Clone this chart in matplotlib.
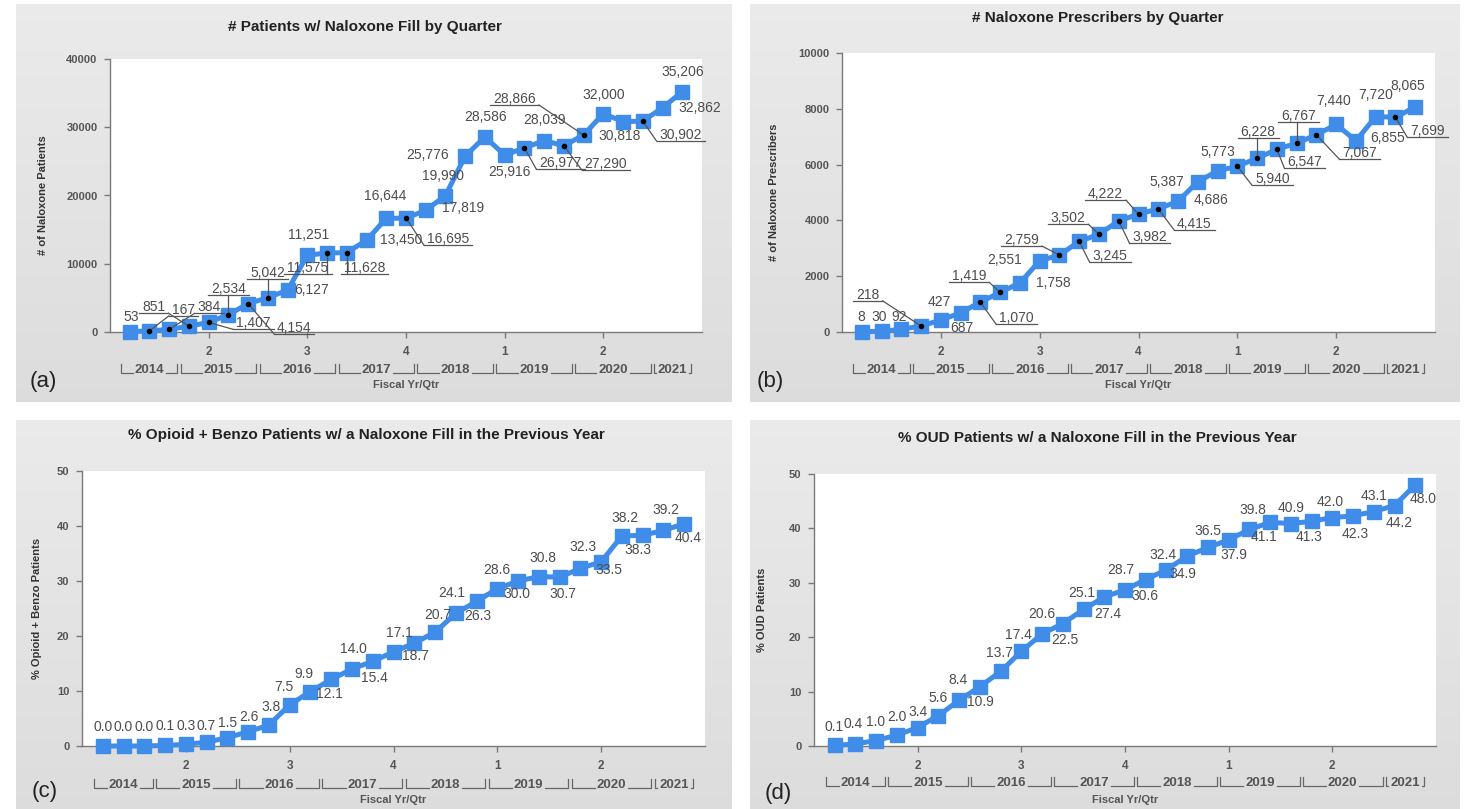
import matplotlib
matplotlib.use("Agg")
import numpy as np
import matplotlib.pyplot as plt

plt.rcParams['font.family'] = ['Liberation Sans', 'DejaVu Sans']

W, H = 1468, 809

# ---- data -------------------------------------------------------------
quarter_ticks = [4, 9, 14, 19, 24]
quarter_labels = ["2", "3", "4", "1", "2"]
fiscal_years = ["2014", "2015", "2016", "2017", "2018", "2019", "2020", "2021"]
year_quarters = [3, 4, 4, 4, 4, 4, 4, 2]

patients = [53, 167, 384, 851, 1407, 2534, 4154, 5042, 6127, 11251, 11575, 11628,
            13450, 16644, 16695, 17819, 19990, 25776, 28586, 25916, 26977, 28039,
            27290, 28866, 32000, 30818, 30902, 32862, 35206]
prescribers = [8, 30, 92, 218, 427, 687, 1070, 1419, 1758, 2551, 2759, 3245, 3502,
               3982, 4222, 4415, 4686, 5387, 5773, 5940, 6228, 6547, 6767, 7067,
               7440, 6855, 7720, 7699, 8065]
opioid_benzo = [0.0, 0.0, 0.0, 0.1, 0.3, 0.7, 1.5, 2.6, 3.8, 7.5, 9.9, 12.1, 14.0,
                15.4, 17.1, 18.7, 20.7, 24.1, 26.3, 28.6, 30.0, 30.8, 30.7, 32.3,
                33.5, 38.2, 38.3, 39.2, 40.4]
oud = [0.1, 0.4, 1.0, 2.0, 3.4, 5.6, 8.4, 10.9, 13.7, 17.4, 20.6, 22.5, 25.1, 27.4,
       28.7, 30.6, 32.4, 34.9, 36.5, 37.9, 39.8, 41.1, 40.9, 41.3, 42.0, 42.3, 43.1,
       44.2, 48.0]

# ---- label placement (pixel offsets from the point, leader flag) ------
pat_pos = [(1, 15, 0), (34, 21, 1), (40, 22, 1), (-35, 19, 1), (45, -1, 1),
           (0, 26, 1), (46, -24, 1), (0, 25, 1), (24, 0, 0), (1, 20, 0),
           (-19, -15, 1), (18, -15, 1), (35, 0, 0), (-1, 22, 0), (42, -21, 1),
           (37, 2, 0), (-2, 20, 0), (-38, 1, 0), (1, 20, 0), (5, -17, 0),
           (36, -15, 1), (0, 21, 0), (42, -18, 1), (-69, 36, 1), (0, 19, 0),
           (-3, -14, 0), (38, -14, 1), (37, 0, 0), (0, 20, 0)]
prs_pos = [(-1, 15, 0), (-2, 14, 0), (-2, 12, 0), (-53, 31, 1), (-2, 18, 0),
           (1, -15, 0), (36, -16, 1), (-31, 16, 1), (33, 0, 0), (-35, 1, 0),
           (-38, 15, 1), (31, -15, 1), (-31, 16, 1), (31, -16, 1), (-33, 20, 1),
           (36, -15, 1), (33, 1, 0), (-31, 0, 0), (0, 19, 0), (35, -13, 1),
           (1, 26, 1), (28, -13, 1), (2, 27, 1), (43, -18, 1), (-3, 23, 0),
           (32, 3, 0), (0, 22, 0), (32, -14, 1), (-7, 21, 0)]
ob_pos = [(0, 19, 0), (0, 19, 0), (0, 19, 0), (0, 19, 0), (0, 18, 0), (0, 16, 0),
          (0, 15, 0), (1, 15, 0), (2, 18, 0), (-6, 18, 0), (-7, 18, 0), (-2, -15, 0),
          (1, 20, 0), (2, -17, 0), (6, 19, 0), (1, -13, 0), (3, 17, 0), (-4, 20, 0),
          (1, -15, 0), (-1, 19, 0), (-1, -13, 0), (4, 19, 0), (3, -17, 0), (3, 21, 0),
          (8, -8, 0), (3, 18, 0), (-5, -15, 0), (2, 20, 0), (4, -14, 0)]
oud_pos = [(-1, 18, 0), (-2, 20, 0), (-1, 19, 0), (0, 18, 0), (0, 16, 0), (0, 18, 0),
           (-1, 20, 0), (1, -15, 0), (-1, 18, 0), (-3, 16, 0), (0, 20, 0), (2, -16, 0),
           (-2, 16, 0), (4, -17, 0), (-4, 20, 0), (-1, -16, 0), (-3, 15, 0), (-4, -18, 0),
           (0, 16, 0), (5, -15, 0), (3, 19, 0), (-6, -15, 0), (0, 16, 0), (-3, -16, 0),
           (-2, 16, 0), (2, -18, 0), (0, 16, 0), (5, -17, 0), (8, -14, 0)]

BLUE = "#3f8de8"
GREY_TXT = "#4d4d4d"
AXIS_GREY = "#7a7a7a"

fig = plt.figure(figsize=(W / 100, H / 100), dpi=100)
fig.patch.set_facecolor("white")
renderer = fig.canvas.get_renderer()


def px_axes(l, t, r, b, **kw):
    return fig.add_axes([l / W, 1 - b / H, (r - l) / W, (b - t) / H], **kw)


def panel_bg(l, t, r, b):
    bg = px_axes(l, t, r, b, zorder=-5)
    grad = np.linspace(0.92, 0.865, 256)[:, None]
    bg.imshow(np.dstack([grad, grad, grad]), aspect="auto", extent=(0, 1, 0, 1),
              interpolation="bilinear")
    bg.set_axis_off()


def to_data(ax, px, py):
    return ax.transData.inverted().transform((px, py))


def setup_axes(ax, ymax, ystep):
    ax.set_facecolor("white")
    ax.set_xlim(-1, 29)
    ax.set_ylim(0, ymax)
    ax.set_yticks(np.arange(0, ymax + 1, ystep))
    ax.set_xticks(quarter_ticks)
    ax.set_xticklabels(quarter_labels)
    for s in ("top", "right"):
        ax.spines[s].set_visible(False)
    for s in ("left", "bottom"):
        ax.spines[s].set_color(AXIS_GREY)
        ax.spines[s].set_linewidth(1.0)
    ax.tick_params(axis="y", length=4, width=1, color=AXIS_GREY, pad=5,
                   labelsize=8, labelcolor="#555555")
    ax.tick_params(axis="x", length=4, width=1, color=AXIS_GREY, pad=6,
                   labelsize=8.5, labelcolor="#555555")
    for lab in ax.get_xticklabels() + ax.get_yticklabels():
        lab.set_fontweight("bold")


def draw_series(ax, vals, texts, pos):
    xs = np.arange(len(vals))
    ax.plot(xs, vals, color=BLUE, lw=3.6, marker="s", ms=9.8, mfc=BLUE, mec=BLUE,
            clip_on=False, zorder=3, solid_joinstyle="miter")
    for x, y, s, (dx, dy, lead) in zip(xs, vals, texts, pos):
        px, py = ax.transData.transform((x, y))
        tx, ty = px + dx, py + dy
        t = ax.text(*to_data(ax, tx, ty), s, ha="center", va="center", fontsize=10,
                    color=GREY_TXT, clip_on=False, zorder=5)
        if lead:
            bb = t.get_window_extent(renderer)
            uy = bb.y0 + 1
            ux0, ux1 = bb.x0 - 3, bb.x1 + 3
            if abs(dx) < bb.width / 2:
                ex = px
            elif px < tx:
                ex = ux0
            else:
                ex = ux1
            pts = np.array([to_data(ax, px, py), to_data(ax, ex, uy)])
            und = np.array([to_data(ax, ux0, uy), to_data(ax, ux1, uy)])
            ax.plot(pts[:, 0], pts[:, 1], color="#555555", lw=0.9, clip_on=False, zorder=4)
            ax.plot(und[:, 0], und[:, 1], color="#555555", lw=0.9, clip_on=False, zorder=4)
            ax.plot([x], [y], "o", color="black", ms=3, clip_on=False, zorder=6)


def year_row(ax, below_year, below_title):
    axis_px = ax.transData.transform((0, 0))
    yline = axis_px[1] - below_year
    start = 0
    for yr, n in zip(fiscal_years, year_quarters):
        x0 = start - 0.42
        x1 = start + n - 0.58
        xc = (x0 + x1) / 2
        xcp = ax.transData.transform((xc, 0))[0]
        t = ax.text(*to_data(ax, xcp, yline), yr, ha="center", va="center", fontsize=9.5,
                    fontweight="bold", color="#555555", clip_on=False)
        bb = t.get_window_extent(renderer)
        x0p = ax.transData.transform((x0, 0))[0]
        x1p = ax.transData.transform((x1, 0))[0]
        ly = yline - 3
        segs = [[(x0p, ly + 9), (x0p, ly), (bb.x0 - 2, ly)],
                [(bb.x1 + 2, ly), (x1p, ly), (x1p, ly + 9)]]
        for seg in segs:
            d = np.array([to_data(ax, *p) for p in seg])
            ax.plot(d[:, 0], d[:, 1], color="#666666", lw=0.9, clip_on=False)
        start += n
    xm = ax.transData.transform((14, 0))[0]
    ax.text(*to_data(ax, xm, axis_px[1] - below_title), "Fiscal Yr/Qtr", ha="center",
            va="center", fontsize=8, fontweight="bold", color="#555555", clip_on=False)


def fig_text(x, y, s, **kw):
    fig.text(x / W, 1 - y / H, s, **kw)


# grey panel backgrounds
panel_bg(16, 4, 732, 402)
panel_bg(750, 4, 1460, 402)
panel_bg(16, 420, 732, 809)
panel_bg(750, 420, 1460, 809)

ax_a = px_axes(110, 59, 702, 332)
ax_b = px_axes(842, 53, 1435, 332)
ax_c = px_axes(82, 471, 705, 746)
ax_d = px_axes(814, 474, 1436, 746)

setup_axes(ax_a, 40000, 10000)
setup_axes(ax_b, 10000, 2000)
setup_axes(ax_c, 50, 10)
setup_axes(ax_d, 50, 10)

draw_series(ax_a, patients, [f"{v:,}" for v in patients], pat_pos)
draw_series(ax_b, prescribers, [f"{v:,}" for v in prescribers], prs_pos)
draw_series(ax_c, opioid_benzo, [f"{v:.1f}" for v in opioid_benzo], ob_pos)
draw_series(ax_d, oud, [f"{v:.1f}" for v in oud], oud_pos)

year_row(ax_a, 38, 53)
year_row(ax_b, 38, 53)
year_row(ax_c, 39, 54)
year_row(ax_d, 37, 54)

title_kw = dict(ha="center", va="center", fontsize=11, fontweight="bold", color="#222222")
fig_text(365, 27, "# Patients w/ Naloxone Fill by Quarter", **title_kw)
fig_text(1098, 18, "# Naloxone Prescribers by Quarter", **title_kw)
fig_text(366, 435, "% Opioid + Benzo Patients w/ a Naloxone Fill in the Previous Year", **title_kw)
fig_text(1097, 438, "% OUD Patients w/ a Naloxone Fill in the Previous Year", **title_kw)

ylab_kw = dict(ha="center", va="center", rotation=90, fontsize=8, fontweight="bold",
               color="#333333")
fig_text(43, 195, "# of Naloxone Patients", **ylab_kw)
fig_text(774, 192, "# of Naloxone Prescribers", **ylab_kw)
fig_text(37, 608, "% Opioid + Benzo Patients", **ylab_kw)
fig_text(762, 610, "% OUD Patients", **ylab_kw)

tag_kw = dict(ha="center", va="center", fontsize=16, color="#222222")
fig_text(43, 382, "(a)", **tag_kw)
fig_text(770, 382, "(b)", **tag_kw)
fig_text(45, 792, "(c)", **tag_kw)
fig_text(778, 793, "(d)", **tag_kw)

fig.savefig("out.png", dpi=100)
